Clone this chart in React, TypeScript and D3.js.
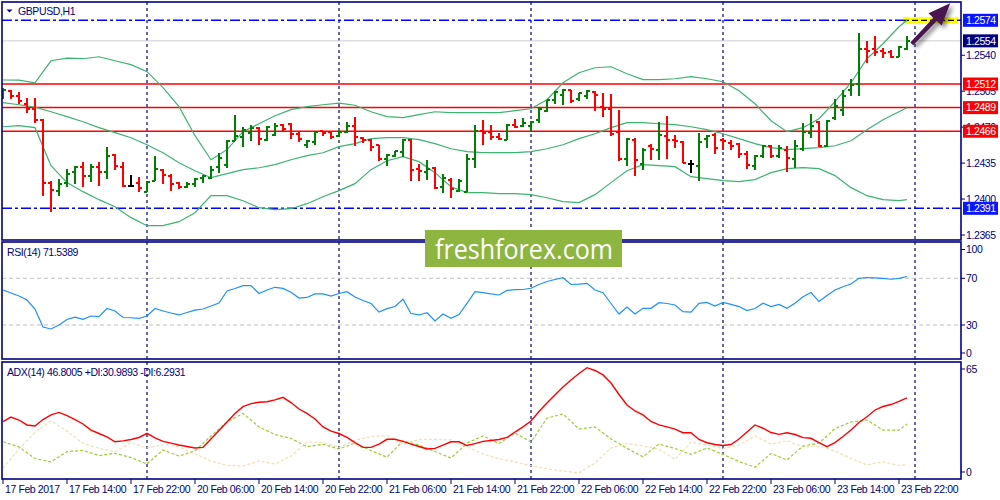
import * as d3 from "d3";
import { useEffect, useRef } from "react";

// GBPUSD H1, 114 bars (17 Feb 06:00 .. 23 Feb 23:00)
const barOpen = [
  1.24996, 1.25055, 1.25006, 1.24928, 1.24875, 1.24768, 1.24159, 1.24082, 1.24156, 1.2426,
  1.24308, 1.24221, 1.24312, 1.24266, 1.24425, 1.24315, 1.24123, 1.24159, 1.24072, 1.24179,
  1.24279, 1.24221, 1.24156, 1.2412, 1.24147, 1.24205, 1.24208, 1.24308, 1.24335, 1.24561,
  1.24607, 1.24646, 1.24692, 1.24578, 1.24626, 1.24717, 1.24731, 1.24636, 1.24529, 1.24552,
  1.24659, 1.24653, 1.24617, 1.24649, 1.24714, 1.24597, 1.24578, 1.24522, 1.24393, 1.24415,
  1.24454, 1.24571, 1.24293, 1.2426, 1.24302, 1.24118, 1.24189, 1.24079, 1.24072, 1.24393,
  1.24659, 1.24649, 1.24604, 1.24578, 1.24724, 1.24707, 1.24707, 1.24766, 1.24853, 1.24967,
  1.25016, 1.25057, 1.24974, 1.24999, 1.25038, 1.24896, 1.24879, 1.24649, 1.2439, 1.24578,
  1.24341, 1.24513, 1.24481, 1.24617, 1.24578, 1.24552, 1.24344, 1.24318, 1.24585, 1.24626,
  1.24578, 1.24546, 1.24539, 1.24442, 1.24318, 1.24415, 1.24513, 1.24422, 1.24474, 1.2439,
  1.24487, 1.24643, 1.24746, 1.24513, 1.24789, 1.2487, 1.25064, 1.2512, 1.2546, 1.2546,
  1.25444, 1.25431, 1.25382, 1.2546,
];
const barHigh = [
  1.25081, 1.25057, 1.25038, 1.24983, 1.24986, 1.24779, 1.24172, 1.24198, 1.24296, 1.24318,
  1.24364, 1.24341, 1.24361, 1.24507, 1.24439, 1.24357, 1.24237, 1.24215, 1.24172, 1.24415,
  1.24296, 1.24244, 1.24166, 1.24162, 1.24205, 1.24237, 1.24325, 1.24448, 1.24578, 1.24821,
  1.24697, 1.24724, 1.24697, 1.24707, 1.2474, 1.24731, 1.2474, 1.24649, 1.24578, 1.24659,
  1.24665, 1.24659, 1.24668, 1.24746, 1.24799, 1.24604, 1.24585, 1.24529, 1.24439, 1.24471,
  1.24585, 1.24585, 1.24341, 1.24383, 1.24308, 1.24247, 1.24205, 1.24195, 1.24439, 1.24724,
  1.24772, 1.24724, 1.24643, 1.24731, 1.24779, 1.24789, 1.24763, 1.24886, 1.24967, 1.25048,
  1.25071, 1.25064, 1.25032, 1.25057, 1.25055, 1.25032, 1.25025, 1.24863, 1.24594, 1.24594,
  1.24497, 1.24536, 1.24746, 1.24811, 1.24626, 1.24561, 1.24383, 1.24643, 1.24626, 1.24643,
  1.24594, 1.24578, 1.24546, 1.24464, 1.24432, 1.24529, 1.24529, 1.24529, 1.24513, 1.24578,
  1.2474, 1.24831, 1.24756, 1.24766, 1.24974, 1.25064, 1.25168, 1.25616, 1.25534, 1.25583,
  1.2547, 1.25454, 1.25486, 1.25583,
];
const barLow = [
  1.24974, 1.24974, 1.24925, 1.24838, 1.2474, 1.24026, 1.23874, 1.24026, 1.24114, 1.24147,
  1.2412, 1.24169, 1.24123, 1.24195, 1.24279, 1.24114, 1.24123, 1.24069, 1.24065, 1.24172,
  1.24143, 1.24075, 1.24098, 1.24108, 1.24114, 1.24156, 1.24195, 1.24254, 1.24302, 1.24561,
  1.24503, 1.24561, 1.24522, 1.24561, 1.2461, 1.24665, 1.24588, 1.24552, 1.24497, 1.24529,
  1.24617, 1.24585, 1.24604, 1.24643, 1.24513, 1.24546, 1.24464, 1.24367, 1.24325, 1.24406,
  1.24409, 1.24172, 1.24172, 1.24189, 1.24098, 1.24059, 1.24011, 1.24072, 1.24069, 1.24302,
  1.24529, 1.24578, 1.24578, 1.24571, 1.24688, 1.24697, 1.24659, 1.2474, 1.24847, 1.24928,
  1.24918, 1.24935, 1.2495, 1.24974, 1.24853, 1.24799, 1.2461, 1.24367, 1.24318, 1.24228,
  1.24279, 1.24383, 1.24383, 1.2439, 1.245, 1.24351, 1.24254, 1.24172, 1.24497, 1.24442,
  1.24481, 1.24481, 1.244, 1.24293, 1.24286, 1.244, 1.244, 1.244, 1.2426, 1.24302,
  1.24464, 1.24594, 1.24507, 1.24507, 1.24766, 1.24811, 1.24999, 1.24999, 1.25324, 1.25395,
  1.25373, 1.25373, 1.25382, 1.25447,
];
const barClose = [
  1.25064, 1.25006, 1.2495, 1.24876, 1.24772, 1.24159, 1.24091, 1.24149, 1.24244, 1.24312,
  1.24221, 1.24312, 1.24266, 1.24415, 1.24325, 1.24123, 1.24123, 1.24111, 1.24166, 1.24296,
  1.24237, 1.24149, 1.2412, 1.24147, 1.24198, 1.24228, 1.24286, 1.244, 1.24568, 1.24617,
  1.24675, 1.24695, 1.24585, 1.24697, 1.24714, 1.24682, 1.24636, 1.24585, 1.24561, 1.24649,
  1.24643, 1.24604, 1.24656, 1.24707, 1.24604, 1.24578, 1.24507, 1.2439, 1.24432, 1.24464,
  1.24578, 1.24286, 1.24269, 1.24293, 1.24108, 1.24205, 1.24098, 1.24172, 1.2439, 1.24659,
  1.24643, 1.24604, 1.24588, 1.24724, 1.24697, 1.2474, 1.24753, 1.24876, 1.2496, 1.25038,
  1.25057, 1.2495, 1.25032, 1.25052, 1.25016, 1.24876, 1.24636, 1.24393, 1.24588, 1.24383,
  1.24481, 1.24487, 1.2462, 1.24578, 1.24561, 1.24351, 1.24344, 1.24552, 1.2461, 1.24497,
  1.24561, 1.24513, 1.24442, 1.24335, 1.24415, 1.24513, 1.24422, 1.24497, 1.244, 1.24513,
  1.24649, 1.24707, 1.24513, 1.24756, 1.24909, 1.24999, 1.25113, 1.2546, 1.25437, 1.25434,
  1.25421, 1.25382, 1.2548, 1.2554,
];

// Bollinger bands and DI lines, read every second bar (plus the last one)
const bandIdx = [...d3.range(0, 113, 2), 113];
const bandUpper = [
  1.25159, 1.25157, 1.25132, 1.25346, 1.25371, 1.25366, 1.25385, 1.25346, 1.25308, 1.2524,
  1.25084, 1.24899, 1.24617, 1.24383, 1.24481, 1.24656, 1.24733, 1.24811, 1.2487, 1.24899,
  1.24918, 1.24933, 1.24913, 1.2485, 1.24802, 1.24792, 1.24821, 1.2485, 1.24841, 1.24841,
  1.24841, 1.24841, 1.2486, 1.24879, 1.24967, 1.25132, 1.2523, 1.25278, 1.25288, 1.2522,
  1.25162, 1.25162, 1.25171, 1.25191, 1.25171, 1.25142, 1.25055, 1.24928, 1.24763, 1.24656,
  1.24695, 1.24782, 1.24948, 1.25132, 1.25366, 1.25512, 1.25677, 1.25741,
];
const bandMiddle = [
  1.24938, 1.24918, 1.24894, 1.2485, 1.24802, 1.24753, 1.24695, 1.24646, 1.24597, 1.24529,
  1.24451, 1.24354, 1.24276, 1.24208, 1.24247, 1.24286, 1.24305, 1.24335, 1.24383, 1.24422,
  1.24451, 1.2451, 1.24539, 1.24588, 1.24597, 1.24597, 1.24578, 1.24539, 1.2449, 1.24461,
  1.24451, 1.24451, 1.24451, 1.24461, 1.2449, 1.24529, 1.24588, 1.24636, 1.24695, 1.24743,
  1.24743, 1.24733, 1.24724, 1.24704, 1.24675, 1.24636, 1.24588, 1.24539, 1.245, 1.24481,
  1.2449, 1.245, 1.24519, 1.24568, 1.24675, 1.24772, 1.2485, 1.24889,
];
const bandLower = [
  1.24704, 1.24714, 1.24695, 1.24325, 1.2416, 1.24072, 1.23994, 1.23926, 1.23819, 1.23741,
  1.23741, 1.2378, 1.23867, 1.24033, 1.24033, 1.23984, 1.23916, 1.23897, 1.23906, 1.23955,
  1.24023, 1.24082, 1.2415, 1.24286, 1.24373, 1.24412, 1.24364, 1.24257, 1.2412, 1.24062,
  1.24062, 1.24052, 1.24052, 1.24043, 1.24013, 1.23975, 1.23965, 1.24043, 1.2416, 1.24276,
  1.24335, 1.24325, 1.24315, 1.24218, 1.24198, 1.24179, 1.24169, 1.24189, 1.24257, 1.24296,
  1.24305, 1.24296, 1.24228, 1.24111, 1.24033, 1.23994, 1.23984, 1.23994,
];

const rsiValues = [
  60.0, 57.4, 54.8, 51.4, 43.7, 28.3, 26.6, 30.0, 34.7, 36.8,
  34.9, 37.7, 37.1, 44.1, 42.0, 36.4, 36.2, 35.6, 37.7, 44.1,
  42.0, 40.3, 38.6, 40.7, 42.8, 43.7, 46.3, 48.8, 59.1, 61.3,
  63.7, 63.7, 57.0, 60.0, 62.3, 61.4, 58.0, 53.1, 53.6, 56.6,
  56.6, 54.8, 57.0, 58.5, 54.0, 51.0, 48.4, 41.1, 44.0, 45.8,
  52.0, 39.8, 38.6, 40.5, 33.4, 39.4, 35.7, 39.0, 48.6, 58.5,
  57.7, 56.6, 55.7, 59.6, 60.3, 60.4, 61.5, 64.7, 67.3, 69.0,
  70.5, 64.7, 65.1, 65.7, 60.0, 57.7, 48.4, 39.4, 45.4, 39.4,
  44.3, 44.3, 49.1, 48.4, 47.1, 41.4, 41.1, 48.6, 49.4, 46.3,
  49.4, 47.6, 45.8, 42.4, 44.1, 48.6, 45.8, 47.6, 44.3, 48.6,
  54.2, 57.8, 50.1, 55.3, 60.0, 62.8, 65.1, 70.0, 70.7, 70.4,
  70.0, 69.2, 70.0, 71.5389,
];

const adxValues = [
  32.4, 35.2, 33.4, 30.4, 29.8, 33.7, 36.5, 38.0, 36.1, 33.7,
  31.0, 27.3, 25.2, 23.1, 20.2, 20.7, 21.6, 22.8, 25.3, 22.5,
  20.4, 19.4, 18.2, 17.3, 16.4, 16.8, 21.9, 27.0, 32.2, 37.4,
  41.5, 43.4, 44.2, 44.5, 45.6, 47.2, 44.0, 40.1, 37.4, 34.0,
  29.2, 26.7, 25.2, 22.8, 19.7, 16.8, 16.8, 18.8, 21.7, 21.7,
  20.4, 18.8, 17.3, 15.8, 16.2, 18.2, 20.2, 20.2, 17.9, 19.1,
  20.4, 21.0, 21.6, 22.8, 26.1, 29.2, 32.8, 38.6, 43.7, 48.6,
  53.5, 57.7, 61.7, 65.2, 63.5, 60.8, 55.9, 48.9, 42.5, 38.9,
  36.5, 32.5, 30.4, 29.2, 27.9, 25.7, 25.7, 21.6, 19.6, 18.5,
  17.9, 18.5, 21.9, 26.1, 30.4, 28.4, 25.8, 24.7, 25.7, 24.6,
  22.7, 22.3, 19.7, 17.2, 19.7, 23.4, 27.3, 31.9, 35.4, 39.5,
  41.6, 42.8, 44.7, 46.8005,
];
const plusDI = [
  20.2, 17.0, 10.0, 8.0, 14.2, 14.9, 11.8, 13.2, 10.6, 6.7,
  15.2, 11.5, 14.6, 23.7, 32.2, 37.4, 29.2, 24.6, 22.2, 17.2,
  18.7, 15.8, 19.4, 14.9, 10.8, 20.7, 18.2, 14.3, 10.3, 19.4,
  23.7, 19.1, 25.5, 20.0, 34.6, 37.1, 27.9, 29.2, 21.9, 16.2,
  11.1, 18.8, 16.1, 12.5, 16.4, 12.5, 8.2, 4.7, 13.1, 9.1,
  17.6, 19.4, 28.2, 32.2, 33.4, 27.3, 27.3, 30.9893,
];
const minusDI = [
  4.1, 15.8, 26.1, 32.8, 26.7, 19.3, 16.2, 14.0, 19.7, 16.4,
  18.5, 17.0, 12.8, 8.5, 5.8, 5.5, 8.5, 6.7, 11.5, 20.0,
  19.7, 16.7, 21.0, 23.4, 24.0, 18.8, 21.6, 21.6, 21.3, 17.2,
  12.8, 9.9, 8.0, 5.6, 3.8, 2.4, 1.3, 7.3, 16.4, 19.1,
  17.6, 15.8, 9.4, 20.0, 18.2, 16.0, 18.2, 23.7, 18.8, 20.7,
  17.0, 17.3, 14.6, 10.0, 6.1, 8.1, 5.8, 6.2931,
];

const timeLabels = [
  "17 Feb 2017", "17 Feb 14:00", "17 Feb 22:00", "20 Feb 06:00", "20 Feb 14:00",
  "20 Feb 22:00", "21 Feb 06:00", "21 Feb 14:00", "21 Feb 22:00", "22 Feb 06:00",
  "22 Feb 14:00", "22 Feb 22:00", "23 Feb 06:00", "23 Feb 14:00", "23 Feb 22:00",
];
const daySeparators = [18, 42, 66, 90, 114];
const priceTicks = [1.254, 1.2505, 1.247, 1.2435, 1.24, 1.2365];
const redLevels = [1.2512, 1.2489, 1.2466];
const dashLevels = [1.2574, 1.2391];
const bidPrice = 1.2554;
const rsiTicks = [100, 70, 30, 0];
const rsiLevels = [70, 30];
const adxTicks = [65, 0];

const NAVY = "#000080";
const FONT = "Liberation Sans, Arial, sans-serif";

export default function App() {
  const svgRef = useRef<SVGSVGElement>(null);

  useEffect(() => {
    if (!svgRef.current) return;
    const svg = d3.select(svgRef.current);
    svg.selectAll("*").remove();

    const left = 2, right = 961;
    const main = { top: 2, bottom: 240 };
    const rsiP = { top: 242, bottom: 359 };
    const adxP = { top: 362, bottom: 479 };

    const x = d3.scaleLinear().domain([0, 113]).range([3, 907]);
    const yP = d3.scaleLinear().domain([1.2391, 1.2574]).range([208.3, 20.3]);
    const yR = d3.scaleLinear().domain([0, 100]).range([360, 243.3]);
    const yA = d3.scaleLinear().domain([0, 65]).range([475, 368]);

    svg.append("rect").attr("width", 1000).attr("height", 500).attr("fill", "#fff");

    const defs = svg.append("defs");
    [["clipMain", main], ["clipRsi", rsiP], ["clipAdx", adxP]].forEach(([id, p]: any) => {
      defs.append("clipPath").attr("id", id)
        .append("rect").attr("x", left).attr("y", p.top)
        .attr("width", right - left).attr("height", p.bottom - p.top);
    });
    const shadow = defs.append("filter").attr("id", "shadow")
      .attr("x", "-50%").attr("y", "-50%").attr("width", "200%").attr("height", "200%");
    shadow.append("feDropShadow").attr("dx", 3).attr("dy", 3)
      .attr("stdDeviation", 2).attr("flood-color", "#000").attr("flood-opacity", 0.45);

    // day separators
    svg.append("g").selectAll("line").data(daySeparators).join("line")
      .attr("x1", (d) => x(d)).attr("x2", (d) => x(d))
      .attr("y1", main.top).attr("y2", adxP.bottom)
      .attr("stroke", NAVY).attr("stroke-width", 1.2).attr("stroke-dasharray", "3,3");

    // ---------- main panel ----------
    const gm = svg.append("g").attr("clip-path", "url(#clipMain)");

    gm.append("line").attr("x1", left).attr("x2", right)
      .attr("y1", yP(bidPrice)).attr("y2", yP(bidPrice))
      .attr("stroke", "#cfcfcf").attr("stroke-width", 1);

    gm.selectAll(".red").data(redLevels).join("line")
      .attr("x1", left).attr("x2", right)
      .attr("y1", (d) => yP(d)).attr("y2", (d) => yP(d))
      .attr("stroke", "#ff0000").attr("stroke-width", 1.5);

    gm.selectAll(".dash").data(dashLevels).join("line")
      .attr("x1", left).attr("x2", right)
      .attr("y1", (d) => yP(d)).attr("y2", (d) => yP(d))
      .attr("stroke", "#0000ff").attr("stroke-width", 1.4).attr("stroke-dasharray", "10,3,3,3");

    // highlight at the top level
    const hlTop = dashLevels[0];
    gm.append("rect").attr("x", x(112.5)).attr("y", yP(hlTop + 0.0003))
      .attr("width", x(119.4) - x(112.5)).attr("height", yP(hlTop - 0.0003) - yP(hlTop + 0.0003))
      .attr("fill", "#ffff00");
    gm.append("line").attr("x1", x(112.5)).attr("x2", x(119.4))
      .attr("y1", yP(hlTop)).attr("y2", yP(hlTop))
      .attr("stroke", "#000").attr("stroke-width", 1.3).attr("stroke-dasharray", "6,3");

    const bandLine = d3.line<number>().x((_, i) => x(bandIdx[i])).y((d) => yP(d));
    [bandUpper, bandMiddle, bandLower].forEach((b) => {
      gm.append("path").attr("d", bandLine(b)).attr("fill", "none")
        .attr("stroke", "#3cb371").attr("stroke-width", 1.2);
    });

    const bars = d3.range(barOpen.length);
    gm.append("g").attr("shape-rendering", "crispEdges").selectAll("path").data(bars).join("path")
      .attr("d", (i) => {
        const cx = x(i);
        return `M${cx},${yP(barHigh[i])}V${yP(barLow[i])}M${cx - 3},${yP(barOpen[i])}H${cx}M${cx},${yP(barClose[i])}H${cx + 3}`;
      })
      .attr("fill", "none").attr("stroke-width", 2)
      .attr("stroke", (i) => barClose[i] > barOpen[i] ? "#008000" : barClose[i] < barOpen[i] ? "#ff0000" : "#000");

    // arrow annotation
    const tail: [number, number] = [x(113.6), yP(1.2551)];
    const tip: [number, number] = [x(118.4), yP(1.25905)];
    const dx = tip[0] - tail[0], dy = tip[1] - tail[1];
    const len = Math.hypot(dx, dy);
    const ux = dx / len, uy = dy / len, nx = -uy, ny = ux;
    const hb = [tip[0] - 22 * ux, tip[1] - 22 * uy];
    const pt = (b: number[], w: number) => `${b[0] + nx * w},${b[1] + ny * w}`;
    svg.append("path")
      .attr("d", `M${pt(tail, 2)}L${pt(hb, 2.4)}L${pt(hb, 9)}L${tip[0]},${tip[1]}L${pt(hb, -9)}L${pt(hb, -2.4)}L${pt(tail, -2)}Z`)
      .attr("fill", "#4a1250").attr("filter", "url(#shadow)");

    // ---------- RSI panel ----------
    const gr = svg.append("g").attr("clip-path", "url(#clipRsi)");
    gr.selectAll("line").data(rsiLevels).join("line")
      .attr("x1", left).attr("x2", right)
      .attr("y1", (d) => yR(d)).attr("y2", (d) => yR(d))
      .attr("stroke", "#c0c0c0").attr("stroke-width", 1).attr("stroke-dasharray", "4,3");
    gr.append("path")
      .attr("d", d3.line<number>().x((_, i) => x(i)).y((d) => yR(d))(rsiValues))
      .attr("fill", "none").attr("stroke", "#1e90ff").attr("stroke-width", 1.2);

    // ---------- ADX panel ----------
    const ga = svg.append("g").attr("clip-path", "url(#clipAdx)");
    const diLine = d3.line<number>().x((_, i) => x(bandIdx[i])).y((d) => yA(d));
    ga.append("path").attr("d", diLine(minusDI)).attr("fill", "none")
      .attr("stroke", "#f5deb3").attr("stroke-width", 1.2).attr("stroke-dasharray", "3,2");
    ga.append("path").attr("d", diLine(plusDI)).attr("fill", "none")
      .attr("stroke", "#9acd32").attr("stroke-width", 1.2).attr("stroke-dasharray", "3,2");
    ga.append("path")
      .attr("d", d3.line<number>().x((_, i) => x(i)).y((d) => yA(d))(adxValues))
      .attr("fill", "none").attr("stroke", "#ff0000").attr("stroke-width", 1.4);

    // ---------- frames ----------
    [main, rsiP, adxP].forEach((p) => {
      svg.append("rect").attr("x", left).attr("y", p.top)
        .attr("width", right - left).attr("height", p.bottom - p.top)
        .attr("fill", "none").attr("stroke", NAVY).attr("stroke-width", 1.6);
    });

    const txt = (sel: any) => sel.attr("font-family", FONT).attr("font-size", 10.5)
      .attr("letter-spacing", -0.4).attr("fill", NAVY);

    // price axis
    const pa = svg.append("g");
    pa.selectAll("line").data(priceTicks).join("line")
      .attr("x1", right).attr("x2", right + 4)
      .attr("y1", (d) => yP(d)).attr("y2", (d) => yP(d)).attr("stroke", NAVY);
    txt(pa.selectAll("text").data(priceTicks).join("text")
      .attr("x", 966).attr("y", (d) => yP(d)).attr("dy", "0.36em")
      .text((d) => d.toFixed(4)));

    // price marker boxes
    const markers = [
      ...dashLevels.map((v) => ({ v, fill: "#0a14ff" })),
      { v: bidPrice, fill: NAVY },
      ...redLevels.map((v) => ({ v, fill: "#ff0000" })),
    ];
    const mk = svg.append("g").selectAll("g").data(markers).join("g")
      .attr("transform", (d) => `translate(0,${yP(d.v)})`);
    mk.append("rect").attr("x", 963).attr("y", -6.5).attr("width", 35).attr("height", 13)
      .attr("fill", (d) => d.fill);
    txt(mk.append("text")).attr("fill", "#fff").attr("x", 966).attr("dy", "0.36em")
      .text((d: any) => d.v.toFixed(4));

    // RSI axis
    const ra = svg.append("g");
    const rsiY = (v: number) => Math.min(Math.max(yR(v), 249.5), 353);
    ra.selectAll("line").data(rsiTicks).join("line")
      .attr("x1", right).attr("x2", right + 4)
      .attr("y1", rsiY).attr("y2", rsiY).attr("stroke", NAVY);
    txt(ra.selectAll("text").data(rsiTicks).join("text")
      .attr("x", 966).attr("y", rsiY).attr("dy", "0.36em").text((d) => String(d)));

    // ADX axis
    const aa = svg.append("g");
    const adxY = (v: number) => Math.min(Math.max(yA(v), 369), 472);
    aa.selectAll("line").data(adxTicks).join("line")
      .attr("x1", right).attr("x2", right + 4)
      .attr("y1", adxY).attr("y2", adxY).attr("stroke", NAVY);
    txt(aa.selectAll("text").data(adxTicks).join("text")
      .attr("x", 966).attr("y", adxY).attr("dy", "0.36em").text((d) => String(d)));

    // time axis
    const ta = svg.append("g");
    const tickIdx = d3.range(0, barOpen.length, 8);
    ta.selectAll("line").data(tickIdx).join("line")
      .attr("x1", (d) => x(d)).attr("x2", (d) => x(d))
      .attr("y1", adxP.bottom).attr("y2", adxP.bottom + 5).attr("stroke", NAVY);
    txt(ta.selectAll("text").data(tickIdx).join("text")
      .attr("x", (d) => x(d) + 2).attr("y", 489).attr("dy", "0.36em")
      .text((_, i) => timeLabels[i]));

    // titles
    svg.append("path").attr("d", "M6.5,9.5L12.5,9.5L9.5,12.5Z").attr("fill", NAVY);
    txt(svg.append("text")).attr("x", 18).attr("y", 11).attr("dy", "0.36em").text("GBPUSD,H1");
    txt(svg.append("text")).attr("x", 7).attr("y", 252).attr("dy", "0.36em")
      .text(`RSI(14) ${rsiValues[rsiValues.length - 1].toFixed(4)}`);
    txt(svg.append("text")).attr("x", 7).attr("y", 372).attr("dy", "0.36em")
      .text(`ADX(14) ${adxValues[adxValues.length - 1].toFixed(4)} +DI:${plusDI[plusDI.length - 1].toFixed(4)} -DI:${minusDI[minusDI.length - 1].toFixed(4)}`);

    // watermark
    svg.append("rect").attr("x", 425).attr("y", 230).attr("width", 197).attr("height", 37)
      .attr("fill", "#8db53f");
    svg.append("text").attr("x", 435).attr("y", 258.5)
      .attr("font-family", "Open Sans, sans-serif").attr("font-size", 28).attr("fill", "#fff")
      .attr("textLength", 178).attr("lengthAdjust", "spacingAndGlyphs")
      .text("freshforex.com");
  }, []);

  return (
    <svg ref={svgRef} width={1000} height={500}
      style={{ position: "absolute", left: 0, top: 0, display: "block" }} />
  );
}
